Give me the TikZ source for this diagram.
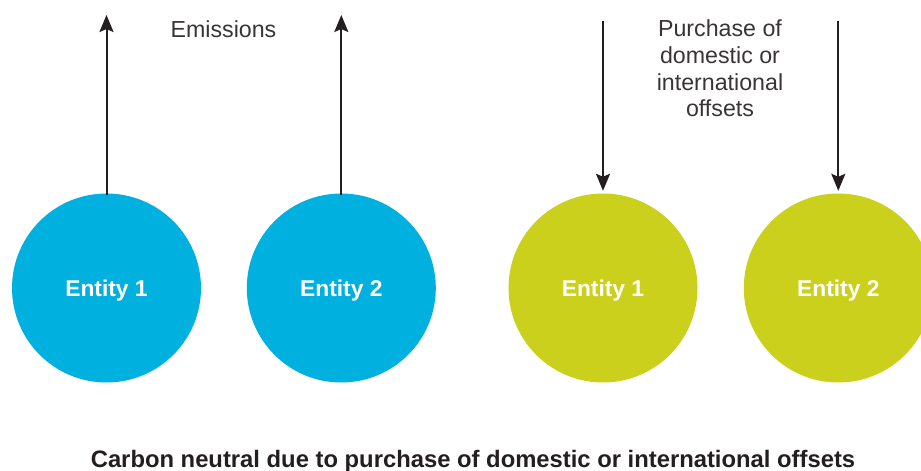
\documentclass[tikz,border=0pt]{standalone}
\usepackage{fontspec}
\setmainfont{Liberation Sans}
\usetikzlibrary{arrows.meta}
\definecolor{entblue}{HTML}{00B0DE}
\definecolor{entgreen}{HTML}{CBD01C}
\definecolor{inkdark}{HTML}{231F20}
\tikzset{
  entity/.style={circle, minimum size=189pt, inner sep=0pt, text=white,
    text depth=0pt, font=\fontsize{22.8}{26}\selectfont\bfseries},
  flow/.style={draw=inkdark, line width=2pt,
    -{Stealth[length=17pt, width=14pt, inset=3pt]}},
  caption/.style={text=inkdark!90, align=center,
    font=\fontsize{23.2}{26.7}\selectfont},
}
\begin{document}
\begin{tikzpicture}[x=1pt, y=-1pt]
  \useasboundingbox (0,0) rectangle (921,471);
  \clip (0,0) rectangle (921,471);

  % emitting entities
  \node[entity, fill=entblue] (b1) at (106.5,288) {Entity 1};
  \node[entity, fill=entblue] (b2) at (341.3,288) {Entity 2};
  % offsetting entities
  \node[entity, fill=entgreen] (g1) at (603,288) {Entity 1};
  \node[entity, fill=entgreen] (g2) at (838.3,288) {Entity 2};

  % arrow ends
  \coordinate (b1top) at (106.5,15);
  \coordinate (b2top) at (341.3,15);
  \coordinate (g1top) at (603,20.5);
  \coordinate (g2top) at (838.3,20.5);

  \draw[flow] ([yshift=-1.5pt]b1.north) -- (b1top);
  \draw[flow] ([yshift=-1.5pt]b2.north) -- (b2top);
  \draw[flow, shorten >=2.5pt] (g1top) -- (g1.north);
  \draw[flow, shorten >=2.5pt] (g2top) -- (g2.north);

  \node[caption] (emis) at (223.5,29.5) {Emissions};
  \node[caption, anchor=north] (offs) at (720,16.5)
    {Purchase of\\domestic or\\international\\offsets};

  \node[text=inkdark, font=\fontsize{23.8}{26}\selectfont\bfseries] (title)
    at (473,461) {Carbon neutral due to purchase of domestic or international offsets};
\end{tikzpicture}
\end{document}
